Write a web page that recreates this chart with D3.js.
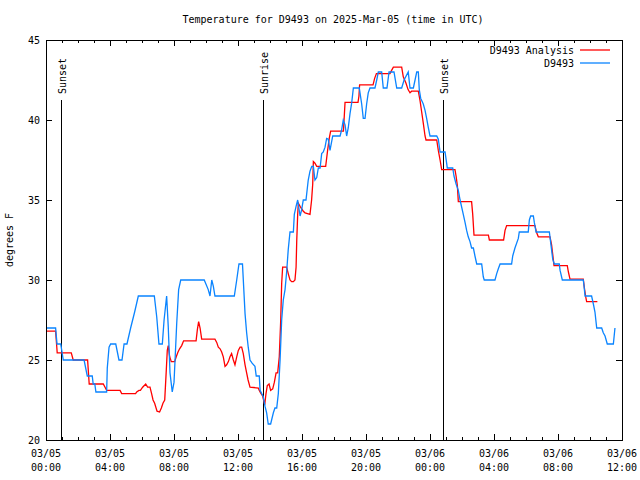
<!DOCTYPE html>
<html><head><meta charset="utf-8">
<script src="https://cdn.jsdelivr.net/npm/d3@7"></script>
<style>body{margin:0;background:#fff}svg{display:block}</style>
</head><body>
<script>
// ---- data (hours since 2025-03-05 00:00 UTC, degrees F) ----
const blueHours = [0,0.6,0.69,0.92,1.08,2.38,2.58,2.89,2.95,3.05,3.12,3.79,3.83,3.94,4.04,4.36,4.56,4.75,4.88,5.06,5.29,5.54,5.77,6.77,6.92,7.06,7.27,7.38,7.54,7.64,7.75,7.89,8.0,8.08,8.17,8.29,8.42,9.89,10.14,10.25,10.36,10.46,10.56,11.77,11.92,12.06,12.28,12.44,12.54,12.64,12.75,12.88,13.06,13.14,13.33,13.38,13.58,13.69,13.79,13.89,14.04,14.21,14.31,14.42,14.52,14.63,14.73,14.83,14.94,15.04,15.14,15.25,15.46,15.52,15.63,15.73,15.88,15.98,16.08,16.25,16.39,16.5,16.61,16.71,16.81,16.92,17.02,17.13,17.23,17.33,17.44,17.54,17.64,17.75,17.92,18.38,18.48,18.58,18.69,18.79,18.89,19.0,19.11,19.21,19.58,19.73,19.83,19.94,20.04,20.14,20.25,20.56,20.67,20.77,20.98,21.08,21.31,21.44,21.75,21.92,22.23,22.38,22.64,22.75,22.96,23.17,23.27,23.33,23.42,23.58,23.69,23.79,23.88,24.0,24.42,24.52,24.63,24.94,25.04,25.08,25.42,25.5,25.63,25.77,25.88,26.08,26.19,26.29,26.39,26.5,26.6,26.71,26.81,26.92,27.23,27.33,27.39,28.06,28.17,28.27,28.38,29.1,29.17,29.31,29.52,29.58,30.14,30.21,30.29,30.46,30.52,30.63,31.46,31.56,31.67,31.77,32.08,32.13,32.27,33.58,33.63,33.69,34.1,34.21,34.31,34.42,34.73,34.83,34.94,35.08,35.46,35.56];
const blueTemps = [27,27,26,26,25,25,24,24,23.5,23.5,23,23,24.5,25.8,26,26,25,25,26,26,27,28,29,29,27.7,26,26,27.5,29,27.1,24.2,23,23.6,25.3,27.3,29.4,30,30,29.4,29,30,29.6,29,29,30,31,31,27.9,26.7,25.8,25,24.8,24.6,24,24,23.1,22.7,22.1,21.7,21,21,21.7,22,22,22.9,25,27.5,28.75,29.4,30.5,31.9,33,33,34.1,34.6,35,34,34.4,35,35,36.25,36.8,37.1,37.1,36.25,36.4,37,37,37.9,38,38.3,38.85,38.8,38.1,39,39,39.4,40,39.7,39,39.5,40.4,41.1,42,42,41,40.1,40.1,41,41.7,42,42,42.5,43,43,42,42,43,43,42,42,42.5,43,42,42,43,43,41.9,41.35,41,40.6,40.1,39.6,39,39,38.8,38,38,37.3,37,37,36.5,36,35.6,35,34.1,33.6,33.1,32.7,32.4,32,32,31.5,31,31,30.2,30,30,30.4,30.7,31,31,31.5,32,32.6,33,33,33.75,34,34,33.6,33,33,32.2,31.3,31,31,30.6,30,30,29.6,29,29,28.5,28,27,27,26.7,26.5,26,26,27];
const redHours = [0,0.6,0.66,0.7,1.58,1.7,2.6,2.64,2.7,3.58,3.69,3.79,4.63,4.73,5.6,5.67,5.81,5.9,6.04,6.23,6.35,6.5,6.6,6.69,6.79,6.94,7.1,7.21,7.31,7.42,7.52,7.58,7.64,7.73,7.83,8.04,8.14,8.25,8.35,8.48,8.6,9.38,9.46,9.54,9.63,9.73,10.56,10.67,10.77,10.88,10.98,11.08,11.19,11.29,11.4,11.5,11.6,11.71,11.81,11.92,12.02,12.13,12.23,12.33,12.44,12.54,12.63,12.75,13.27,13.33,13.44,13.54,13.6,13.67,13.75,13.83,13.94,14.04,14.17,14.27,14.38,14.48,14.58,14.67,14.73,14.79,15.04,15.14,15.25,15.35,15.46,15.56,15.63,15.67,15.73,15.77,15.88,16.08,16.19,16.5,16.6,16.67,16.71,16.81,16.92,17.48,17.6,17.71,17.79,18.59,18.69,19.5,19.56,19.6,20.44,20.54,20.65,21.5,21.6,21.71,22.23,22.33,22.5,22.63,22.75,22.85,23.27,23.38,23.48,23.58,23.69,23.75,24.42,24.52,24.63,24.73,25.56,25.63,25.71,25.77,26.6,26.67,26.75,27.65,27.71,28.6,28.69,28.79,30.56,30.65,30.77,31.5,31.6,31.67,31.75,32.58,32.65,32.75,33.58,33.65,33.73,33.79,34.46];
const redTemps = [26.8,26.8,26,25.45,25.45,25,25,24.4,23.5,23.5,23.3,23.1,23.1,22.9,22.9,23,23.1,23.1,23.3,23.5,23.3,23.3,22.9,22.5,22.3,21.8,21.75,22,22.3,22.5,24.4,25.6,25.9,25.2,24.9,24.9,25.2,25.5,25.7,25.9,26.2,26.2,26.9,27.4,27,26.3,26.3,26.1,25.8,25.7,25.5,25.2,24.6,24.7,24.9,25.2,25.4,25,24.7,25.2,25.6,25.8,25.8,25.4,24.7,24.2,23.75,23.3,23.25,23.1,22.9,22.75,22.5,22.2,22.9,23.4,23.5,23.1,23.2,23.6,24.2,24.2,25.2,27.5,29.8,30.8,30.8,30.4,30,29.9,29.9,30,30.8,32.4,34.1,34.8,34.6,34.3,34.2,34.1,35,36,37.4,37.3,37.1,37.1,38.1,38.9,39.3,39.3,41.1,41.1,41.5,42.2,42.2,42.6,42.9,42.9,43.1,43.3,43.3,42.7,42.3,41.9,41.7,41.8,41.8,41.2,40.5,39.8,39,38.75,38.75,38.1,37.5,36.9,36.9,36.5,35.9,34.9,34.9,34.1,32.8,32.8,32.5,32.5,33.1,33.4,33.4,33,32.7,32.7,32.2,31.6,30.9,30.9,30.5,30.06,30.06,29.5,28.96,28.65,28.65];
const seriesNames = ["D9493 Analysis", "D9493"];
const yTicks = [20,25,30,35,40,45];
const xTickHours = [0,4,8,12,16,20,24,28,32,36];
const xTickDates = ["03/05","03/05","03/05","03/05","03/05","03/05","03/06","03/06","03/06","03/06"];
const xTickTimes = ["00:00","04:00","08:00","12:00","16:00","20:00","00:00","04:00","08:00","12:00"];
const sunHours = [0.94, 13.56, 24.81];
const sunLabels = ["Sunset", "Sunrise", "Sunset"];
const titleText = "Temperature for D9493 on 2025-Mar-05 (time in UTC)";

// ---- drawing ----
const W = 640, H = 480;
const L = 46, R = 622, T = 40, B = 440;
const font = "'DejaVu Sans Mono', monospace";
const svg = d3.select("body").append("svg").attr("width", W).attr("height", H)
  .style("font-family", font).style("font-size", "10px");
svg.append("rect").attr("width", W).attr("height", H).attr("fill", "#fff");

const x = d3.scaleLinear().domain([0, 36]).range([L, R]);
const y = d3.scaleLinear().domain([20, 45]).range([B, T]);

// title
svg.append("text").attr("x", 333).attr("y", 23).attr("text-anchor", "middle").text(titleText);

// y axis ticks & labels
const gy = svg.append("g");
yTicks.forEach(v => {
  const yy = Math.round(y(v)) + 0.5;
  gy.append("line").attr("x1", L).attr("x2", L + 6).attr("y1", yy).attr("y2", yy).attr("stroke", "#000");
  gy.append("line").attr("x1", R - 6).attr("x2", R).attr("y1", yy).attr("y2", yy).attr("stroke", "#000");
  gy.append("text").attr("x", 40).attr("y", y(v) + 4).attr("text-anchor", "end").text(v);
});
// x ticks: minor each hour, major every 4 hours
const gx = svg.append("g");
d3.range(0, 37).forEach(h => {
  const xx = Math.round(x(h)) + 0.5;
  const len = (h % 4 === 0) ? 6 : 3;
  gx.append("line").attr("x1", xx).attr("x2", xx).attr("y1", B).attr("y2", B - len).attr("stroke", "#000");
  gx.append("line").attr("x1", xx).attr("x2", xx).attr("y1", T).attr("y2", T + len).attr("stroke", "#000");
});
xTickHours.forEach((h, i) => {
  const t = gx.append("text").attr("x", x(h)).attr("y", 457).attr("text-anchor", "middle");
  t.append("tspan").attr("x", x(h)).text(xTickDates[i]);
  t.append("tspan").attr("x", x(h)).attr("dy", 14).text(xTickTimes[i]);
});

// y axis title
svg.append("text").attr("transform", "translate(13,240) rotate(-90)").attr("text-anchor", "middle").text("degrees F");

// sunrise / sunset lines
sunHours.forEach((h, i) => {
  const xx = Math.round(x(h)) + 0.5;
  svg.append("line").attr("x1", xx).attr("x2", xx).attr("y1", 100).attr("y2", B).attr("stroke", "#000");
  svg.append("text").attr("transform", `translate(${xx + 4},94) rotate(-90)`).attr("text-anchor", "start").text(sunLabels[i]);
});

// series
const line = d3.line().x(d => x(d[0])).y(d => y(d[1]));
const redData = redHours.map((h, i) => [h, redTemps[i]]);
const blueData = blueHours.map((h, i) => [h, blueTemps[i]]);
svg.append("path").datum(redData).attr("d", line).attr("fill", "none").attr("stroke", "#ff0000").attr("stroke-width", 1.3);
svg.append("path").datum(blueData).attr("d", line).attr("fill", "none").attr("stroke", "#0a84ff").attr("stroke-width", 1.3);

// border
svg.append("rect").attr("x", L + 0.5).attr("y", T + 0.5).attr("width", R - L).attr("height", B - T)
  .attr("fill", "none").attr("stroke", "#000");

// legend
const legColors = ["#ff0000", "#0a84ff"];
seriesNames.forEach((n, i) => {
  const ly = 54 + i * 13;
  svg.append("text").attr("x", 574).attr("y", ly).attr("text-anchor", "end").text(n);
  svg.append("line").attr("x1", 580).attr("x2", 610).attr("y1", ly - 4).attr("y2", ly - 4)
    .attr("stroke", legColors[i]).attr("stroke-width", 1.3);
});
</script>
</body></html>
